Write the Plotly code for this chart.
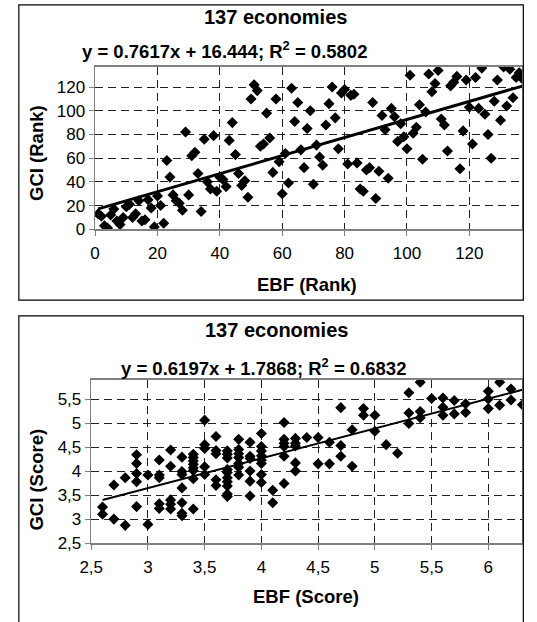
import plotly.graph_objects as go

# ---------------- data ----------------
ebf_rank = [1, 2, 3, 4, 5, 6, 7, 8, 9, 10, 11, 12, 13, 14, 15, 16, 17, 18, 19, 20,
            21, 22, 23, 24, 25, 26, 27, 28, 29, 30, 31, 32, 33, 34, 35, 36, 37, 38, 39, 40,
            41, 42, 43, 44, 45, 46, 47, 48, 49, 50, 51, 52, 53, 54, 55, 56, 57, 58, 59, 60,
            61, 62, 63, 64, 65, 66, 67, 68, 69, 70, 71, 72, 73, 74, 75, 76, 77, 78, 79, 80,
            81, 82, 83, 84, 85, 86, 87, 88, 89, 90, 91, 92, 93, 94, 95, 96, 97, 98, 99, 100,
            101, 102, 103, 104, 105, 106, 107, 108, 109, 110, 111, 112, 113, 114, 115, 116,
            117, 118, 119, 120, 121, 122, 123, 124, 125, 126, 127, 128, 129, 130, 131, 132,
            133, 134, 135, 136, 137]
gci_rank = [13, 11, 3, 1, 12, 17, 7, 4, 10, 19, 21, 10, 13, 24, 7, 8, 25, 18, 2, 28,
            20, 5, 58, 44, 29, 24, 22, 16, 82, 29, 62, 65, 47, 15, 76, 40, 34, 79, 32, 44,
            42, 36, 75, 90, 63, 47, 37, 41, 27, 110, 122, 117, 70, 72, 98, 77, 48, 110, 57, 30,
            64, 39, 119, 91, 107, 67, 52, 85, 100, 38, 71, 61, 54, 88, 106, 120, 94, 68, 115, 118,
            55, 113, 114, 56, 34, 32, 50, 52, 107, 26, 49, 96, 84, 43, 102, 95, 74, 89, 78, 68,
            130, 81, 86, 105, 59, 99, 131, 116, 123, 134, 93, 88, 66, 121, 124, 129,
            51, 83, 126, 103, 72, 128, 102, 136, 97, 80, 60, 108, 126, 92, 137, 104,
            135, 111, 128, 132, 127]

ebf_score = [2.6, 2.6, 2.7, 2.7, 2.8, 2.8,
             2.9, 2.9, 2.9, 2.9, 2.9, 3.0, 3.0,
             3.1, 3.1, 3.1, 3.1, 3.1, 3.2, 3.2, 3.2, 3.2, 3.2,
             3.3, 3.3, 3.3, 3.3, 3.3, 3.3, 3.3,
             3.4, 3.4, 3.4, 3.4, 3.4, 3.4, 3.4, 3.4,
             3.5, 3.5, 3.5, 3.5, 3.5, 3.6, 3.6, 3.6, 3.6, 3.6,
             3.7, 3.7, 3.7, 3.7, 3.7, 3.7, 3.7, 3.7, 3.7, 3.7,
             3.8, 3.8, 3.8, 3.8, 3.8, 3.8, 3.8,
             3.9, 3.9, 3.9, 3.9, 3.9, 3.9,
             4.0, 4.0, 4.0, 4.0, 4.0, 4.0, 4.0, 4.0,
             4.1, 4.1, 4.2, 4.2, 4.2, 4.2, 4.2, 4.2,
             4.3, 4.3, 4.3, 4.3, 4.3, 4.4, 4.5, 4.5, 4.6, 4.6,
             4.7, 4.7, 4.7, 4.8, 4.8, 4.9, 4.9, 5.0, 5.0, 5.1, 5.2,
             5.3, 5.3, 5.3, 5.4, 5.4, 5.4, 5.5, 5.6, 5.6, 5.6,
             5.7, 5.7, 5.8, 5.8, 6.0, 6.0, 6.0, 6.1, 6.1, 6.2, 6.2, 6.3]
gci_score = [3.25, 3.10, 3.71, 3.00, 3.86, 2.87,
             4.34, 4.16, 3.95, 3.78, 3.26, 3.92, 2.89,
             4.23, 3.92, 3.86, 3.32, 3.22, 4.44, 4.10, 3.40, 3.31, 3.21,
             4.29, 3.99, 3.93, 3.65, 3.34, 3.12, 3.07,
             4.35, 4.28, 4.21, 4.14, 4.07, 4.01, 3.84, 3.21,
             5.06, 4.55, 4.47, 4.09, 3.93, 4.72, 4.43, 4.36, 3.82, 3.70,
             4.42, 4.35, 4.27, 4.03, 3.97, 3.86, 3.78, 3.69, 3.52, 3.47,
             4.66, 4.45, 4.36, 4.28, 4.16, 4.08, 3.92,
             4.60, 4.31, 4.26, 4.00, 3.79, 3.48,
             4.78, 4.51, 4.42, 4.32, 4.23, 4.16, 3.93, 3.76,
             3.60, 3.34, 5.01, 4.66, 4.58, 4.51, 4.31, 3.74,
             4.68, 4.58, 4.52, 4.17, 4.00, 4.70, 4.70, 4.15, 4.60, 4.15,
             5.32, 4.53, 4.31, 4.86, 4.10, 5.30, 5.16, 5.16, 4.83, 4.55, 4.37,
             5.63, 5.21, 4.99, 5.85, 5.24, 5.11, 5.51, 5.52, 5.33, 5.16,
             5.47, 5.19, 5.40, 5.22, 5.66, 5.50, 5.30, 5.85, 5.37, 5.71, 5.48, 5.38]

rank_fit = (0.7617, 16.444)     # slope, intercept
score_fit = (0.6197, 1.7868)

panel_title = "137 economies"
rank_eq = "y = 0.7617x + 16.444; R<sup>2</sup> = 0.5802"
score_eq = "y = 0.6197x + 1.7868; R<sup>2</sup> = 0.6832"

# ---------------- layout helpers ----------------
W, H = 537, 622
FONT = "Liberation Sans, Arial, sans-serif"


def px(x):
    return x / W


def py(y):
    return 1 - y / H


fig = go.Figure()

# top panel
fig.add_trace(go.Scatter(x=ebf_rank, y=gci_rank, mode="markers",
                         marker=dict(symbol="diamond", size=8.5, color="black"),
                         xaxis="x", yaxis="y", showlegend=False))
xr = [min(ebf_rank), max(ebf_rank)]
fig.add_trace(go.Scatter(x=xr, y=[rank_fit[0] * v + rank_fit[1] for v in xr],
                         mode="lines", line=dict(color="black", width=3),
                         xaxis="x", yaxis="y", showlegend=False))

# bottom panel
fig.add_trace(go.Scatter(x=ebf_score, y=gci_score, mode="markers",
                         marker=dict(symbol="diamond", size=8.5, color="black"),
                         xaxis="x2", yaxis="y2", showlegend=False))
xs = [min(ebf_score), max(ebf_score)]
fig.add_trace(go.Scatter(x=xs, y=[score_fit[0] * v + score_fit[1] for v in xs],
                         mode="lines", line=dict(color="black", width=2),
                         xaxis="x2", yaxis="y2", showlegend=False))

axis_common = dict(showgrid=True, gridcolor="#222222", gridwidth=1, griddash="8px,5px",
                   showline=True, linecolor="#808080", linewidth=1.5, mirror=True,
                   ticks="outside", ticklen=5, tickcolor="#808080", tickwidth=1,
                   zeroline=False, tickfont=dict(family=FONT, size=17, color="black"),
                   fixedrange=True)

fig.update_layout(
    width=W, height=H,
    margin=dict(l=0, r=0, t=0, b=0),
    paper_bgcolor="white", plot_bgcolor="white",
    separators=",.",
    hovermode=False,
    xaxis=dict(domain=[px(85), px(522)], range=[0, 137], tick0=0, dtick=20,
               anchor="y", ticklabelstandoff=3, **axis_common),
    yaxis=dict(domain=[py(233), py(68)], range=[0, 137], tick0=0, dtick=20,
               anchor="x", **axis_common),
    xaxis2=dict(domain=[px(81), px(522)], range=[2.5, 6.3], tick0=2.5, dtick=0.5,
                anchor="y2", ticklabelstandoff=3, **axis_common),
    yaxis2=dict(domain=[py(552), py(386)], range=[2.5, 5.9], tick0=2.5, dtick=0.5,
                anchor="x2", **axis_common),
)

# outer boxes
fig.add_shape(type="rect", xref="paper", yref="paper",
              x0=px(7), x1=px(523), y0=py(305), y1=py(5),
              line=dict(color="black", width=1.2))
fig.add_shape(type="rect", xref="paper", yref="paper",
              x0=px(7), x1=px(523), y0=py(640), y1=py(321),
              line=dict(color="black", width=1.2))

bold = dict(family=FONT, size=20, color="black")
eqf = dict(family=FONT, size=18.5, color="black")
axf = dict(family=FONT, size=18.5, color="black")


def ann(text, x, y, font, angle=0):
    fig.add_annotation(text="<b>" + text + "</b>", x=px(x), y=py(y), xref="paper", yref="paper",
                       showarrow=False, xanchor="center", yanchor="middle",
                       font=font, textangle=angle)


ann(panel_title, 270, 17, bold)
ann(rank_eq, 217, 51, eqf)
ann("GCI (Rank)", 25, 155, axf, -90)
ann("EBF (Rank)", 302, 289, axf)

ann(panel_title, 271, 335, bold)
ann(score_eq, 257, 373, eqf)
ann("GCI (Score)", 25, 487, axf, -90)
ann("EBF (Score)", 301, 606, axf)

fig.write_html("out.html", config={"displayModeBar": False, "staticPlot": True},
               post_script="document.body.style.margin='0';document.body.style.overflow='hidden';")
